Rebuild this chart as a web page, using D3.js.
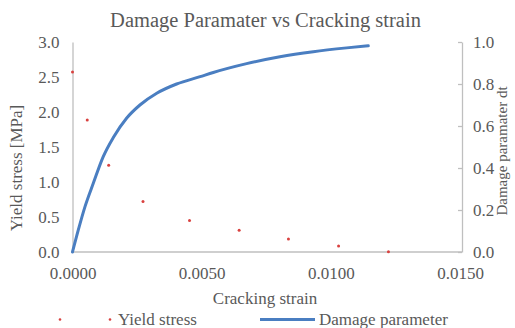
<!DOCTYPE html>
<html>
<head>
<meta charset="utf-8">
<script src="https://cdn.jsdelivr.net/npm/d3@7"></script>
<style>
  html, body { margin: 0; padding: 0; background: #fff; }
</style>
</head>
<body>
<svg id="chart" width="515" height="328"></svg>
<script>
// ---- data ----
const stressStrain = [0, 0.00057, 0.0014, 0.00273, 0.00453, 0.00645, 0.00836, 0.0103, 0.01223];
const yieldStress  = [2.57, 1.886, 1.24, 0.72, 0.45, 0.31, 0.186, 0.086, 0.005];

const damageStrain = [0, 0.000225, 0.000484, 0.000805, 0.00119, 0.00158, 0.0021, 0.00261, 0.00326, 0.00403, 0.00494, 0.00545, 0.00674, 0.00803, 0.00932, 0.01061, 0.01145];
const damageParam  = [0, 0.105, 0.216, 0.327, 0.454, 0.545, 0.638, 0.700, 0.756, 0.800, 0.835, 0.855, 0.897, 0.930, 0.954, 0.972, 0.982];

const xTicks = [0, 0.005, 0.01, 0.015];
const yLeftTicks = [0, 0.5, 1.0, 1.5, 2.0, 2.5, 3.0];
const yRightTicks = [0, 0.2, 0.4, 0.6, 0.8, 1.0];

const titleText = "Damage Paramater vs Cracking strain";
const xTitle = "Cracking strain";
const yLeftTitle = "Yield stress [MPa]";
const yRightTitle = "Damage paramater dt";
const legendNames = ["Yield stress", "Damage parameter"];

// ---- layout ----
const svg = d3.select("#chart");
const FONT = '"Liberation Serif"';
const textColor = "#595959";
const axisColor = "#bfbfbf";
const lineColor = "#4a7ec1";
const dotColor = "#d9413f";
const plotLeft = 72.5, plotRight = 460, plotTop = 42, plotBottom = 252;

const x = d3.scaleLinear().domain([0, 0.015]).range([plotLeft, plotRight]);
const yL = d3.scaleLinear().domain([0, 3]).range([plotBottom, plotTop]);
const yR = d3.scaleLinear().domain([0, 1]).range([plotBottom, plotTop]);

function txt(sel, size) {
  return sel.style("font-family", FONT).style("font-size", size + "px").attr("fill", textColor);
}

// title
txt(svg.append("text").attr("x", 265.5).attr("y", 27).attr("text-anchor", "middle"), 20.5).text(titleText);

// left axis
const gL = svg.append("g").attr("transform", `translate(${plotLeft},0)`)
  .call(d3.axisLeft(yL).tickValues(yLeftTicks).tickFormat(d3.format(".1f")).tickSize(0).tickPadding(13));
gL.select(".domain").attr("stroke", axisColor).attr("stroke-width", 1.3);
txt(gL.selectAll("text"), 17);

// right axis
const gR = svg.append("g").attr("transform", `translate(462,0)`)
  .call(d3.axisRight(yR).tickValues(yRightTicks).tickFormat(d3.format(".1f")).tickSizeInner(-4).tickSizeOuter(0).tickPadding(11));
gR.select(".domain").attr("stroke", axisColor).attr("stroke-width", 1.3);
gR.selectAll("line").attr("stroke", axisColor).attr("stroke-width", 1.3);
txt(gR.selectAll("text"), 17);

// bottom axis
const gB = svg.append("g").attr("transform", `translate(0,${plotBottom})`)
  .call(d3.axisBottom(x).tickValues(xTicks).tickFormat(d3.format(".4f")).tickSize(0).tickPadding(15));
gB.select(".domain").attr("stroke", axisColor).attr("stroke-width", 1.3).attr("d", `M${plotLeft},0H462`);
txt(gB.selectAll("text"), 17);

// axis titles
txt(svg.append("text").attr("x", 265).attr("y", 304).attr("text-anchor", "middle"), 17).text(xTitle);
txt(svg.append("text").attr("transform", "translate(22,168) rotate(-90)").attr("text-anchor", "middle"), 17).text(yLeftTitle);
txt(svg.append("text").attr("transform", "translate(507,151) rotate(-90)").attr("text-anchor", "middle"), 15).text(yRightTitle);

// damage line
const lineData = damageStrain.map((s, i) => [s, damageParam[i]]);
svg.append("path").datum(lineData)
  .attr("fill", "none").attr("stroke", lineColor).attr("stroke-width", 3).attr("stroke-linecap", "round")
  .attr("d", d3.line().x(d => x(d[0])).y(d => yR(d[1])).curve(d3.curveMonotoneX));

// yield stress points
const ptData = stressStrain.map((s, i) => [s, yieldStress[i]]);
svg.append("g").selectAll("circle").data(ptData).join("circle")
  .attr("cx", d => x(d[0])).attr("cy", d => yL(d[1])).attr("r", 1.5).attr("fill", dotColor);

// legend
const ly = 319.5;
svg.append("circle").attr("cx", 60).attr("cy", ly).attr("r", 1.3).attr("fill", dotColor);
svg.append("circle").attr("cx", 110).attr("cy", ly).attr("r", 1.3).attr("fill", dotColor);
txt(svg.append("text").attr("x", 118).attr("y", 325), 17).text(legendNames[0]);
svg.append("line").attr("x1", 260).attr("x2", 315).attr("y1", ly).attr("y2", ly)
  .attr("stroke", lineColor).attr("stroke-width", 3);
txt(svg.append("text").attr("x", 319).attr("y", 325), 17).text(legendNames[1]);
</script>
</body>
</html>
